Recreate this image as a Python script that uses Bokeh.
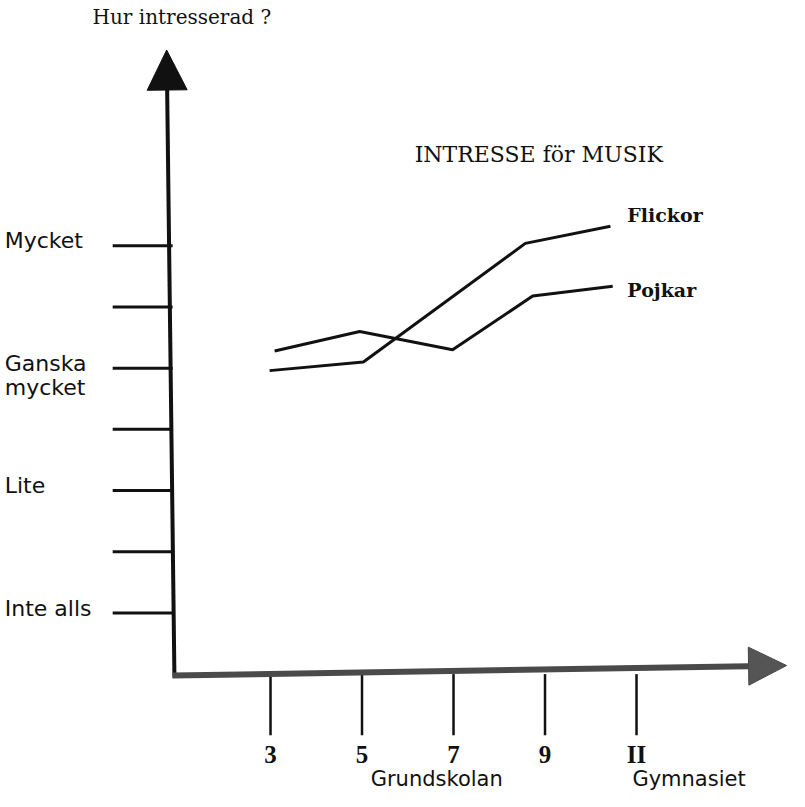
import numpy as np
from bokeh.plotting import figure
from bokeh.models import Range1d, Arrow, NormalHead
from bokeh.core.properties import value
from bokeh.embed import file_html
from bokeh.resources import INLINE

# ---------------- data ----------------
grades = [3, 5, 7, 9, 11]
grade_labels = ["3", "5", "7", "9", "II"]
levels = [1, 2, 3, 4]
level_labels = ["Inte alls", "Lite", "Ganska\nmycket", "Mycket"]

flickor_x = [2.98, 5.03, 8.57, 10.43]
flickor_y = [2.98, 3.05, 4.02, 4.16]
pojkar_x = [3.09, 4.95, 6.98, 8.73, 10.48]
pojkar_y = [3.14, 3.30, 3.15, 3.59, 3.67]

series_names = ["Flickor", "Pojkar"]
chart_title = "INTRESSE för MUSIK"
y_question = "Hur intresserad ?"
school_groups = ["Grundskolan", "Gymnasiet"]

# ---------------- figure ----------------
p = figure(width=789, height=791,
           x_range=Range1d(-2.902, 14.344), y_range=Range1d(-0.4596, 6.0049),
           x_axis_type=None, y_axis_type=None,
           output_backend="svg", toolbar_location=None, min_border=0)
p.outline_line_color = None
p.background_fill_color = "white"
p.border_fill_color = "white"

INK = "#111111"

# y axis (slightly hand-drawn slant) with arrow head
p.add_layout(Arrow(end=NormalHead(size=40, fill_color=INK, line_color=INK),
                   x_start=0.90, y_start=0.47, x_end=0.73, y_end=5.60,
                   line_color=INK, line_width=4))
# x axis with arrow head
p.add_layout(Arrow(end=NormalHead(size=38, fill_color="#555555", line_color="#444444"),
                   x_start=0.86, y_start=0.488, x_end=14.28, y_end=0.57,
                   line_color="#4a4a4a", line_width=6))

# y ticks (every half level)
yt = np.arange(levels[0], levels[-1] + 0.25, 0.5)
p.segment(x0=[-0.45] * len(yt), y0=yt, x1=[0.86] * len(yt), y1=yt,
          line_color=INK, line_width=3)

# y tick labels, left aligned
lab_x, lab_y, lab_t = [], [], []
for lv, lt in zip(levels, level_labels):
    for i, line in enumerate(lt.split("\n")):
        lab_x.append(-2.81)
        lab_y.append(lv + 0.04 - 0.2 * i)
        lab_t.append(line)
p.text(x=lab_x, y=lab_y, text=lab_t, text_font=value("DejaVu Sans"),
       text_font_size="22px", text_align="left", text_baseline="middle",
       text_color=INK)

# x ticks hanging below the axis
p.segment(x0=grades, y0=[0.5] * len(grades), x1=grades, y1=[0.0] * len(grades),
          line_color=INK, line_width=2.5)
p.text(x=grades, y=[-0.16] * len(grades), text=grade_labels,
       text_font=value("Liberation Serif"), text_font_style="bold",
       text_font_size="25px", text_align="center", text_baseline="middle",
       text_color=INK)

# school group names
p.text(x=[5.19, 10.91], y=[-0.36, -0.36], text=school_groups,
       text_font=value("DejaVu Sans"), text_font_size="21px",
       text_align="left", text_baseline="middle", text_color=INK)

# y question and chart title
p.text(x=[-0.89], y=[5.866], text=[y_question], text_font=value("DejaVu Serif"),
       text_font_size="20px", text_align="left", text_baseline="middle",
       text_color=INK)
p.text(x=[6.15], y=[4.746], text=[chart_title], text_font=value("DejaVu Serif"),
       text_font_size="22px", text_align="left", text_baseline="middle",
       text_color=INK)

# series lines
p.line(flickor_x, flickor_y, line_color=INK, line_width=3)
p.line(pojkar_x, pojkar_y, line_color=INK, line_width=3)

# series labels
p.text(x=[10.80, 10.80], y=[4.248, 3.635], text=series_names,
       text_font=value("DejaVu Serif"), text_font_style="bold",
       text_font_size="19px", text_align="left", text_baseline="middle",
       text_color=INK)

open("out.html", "w").write(file_html(p, INLINE))
